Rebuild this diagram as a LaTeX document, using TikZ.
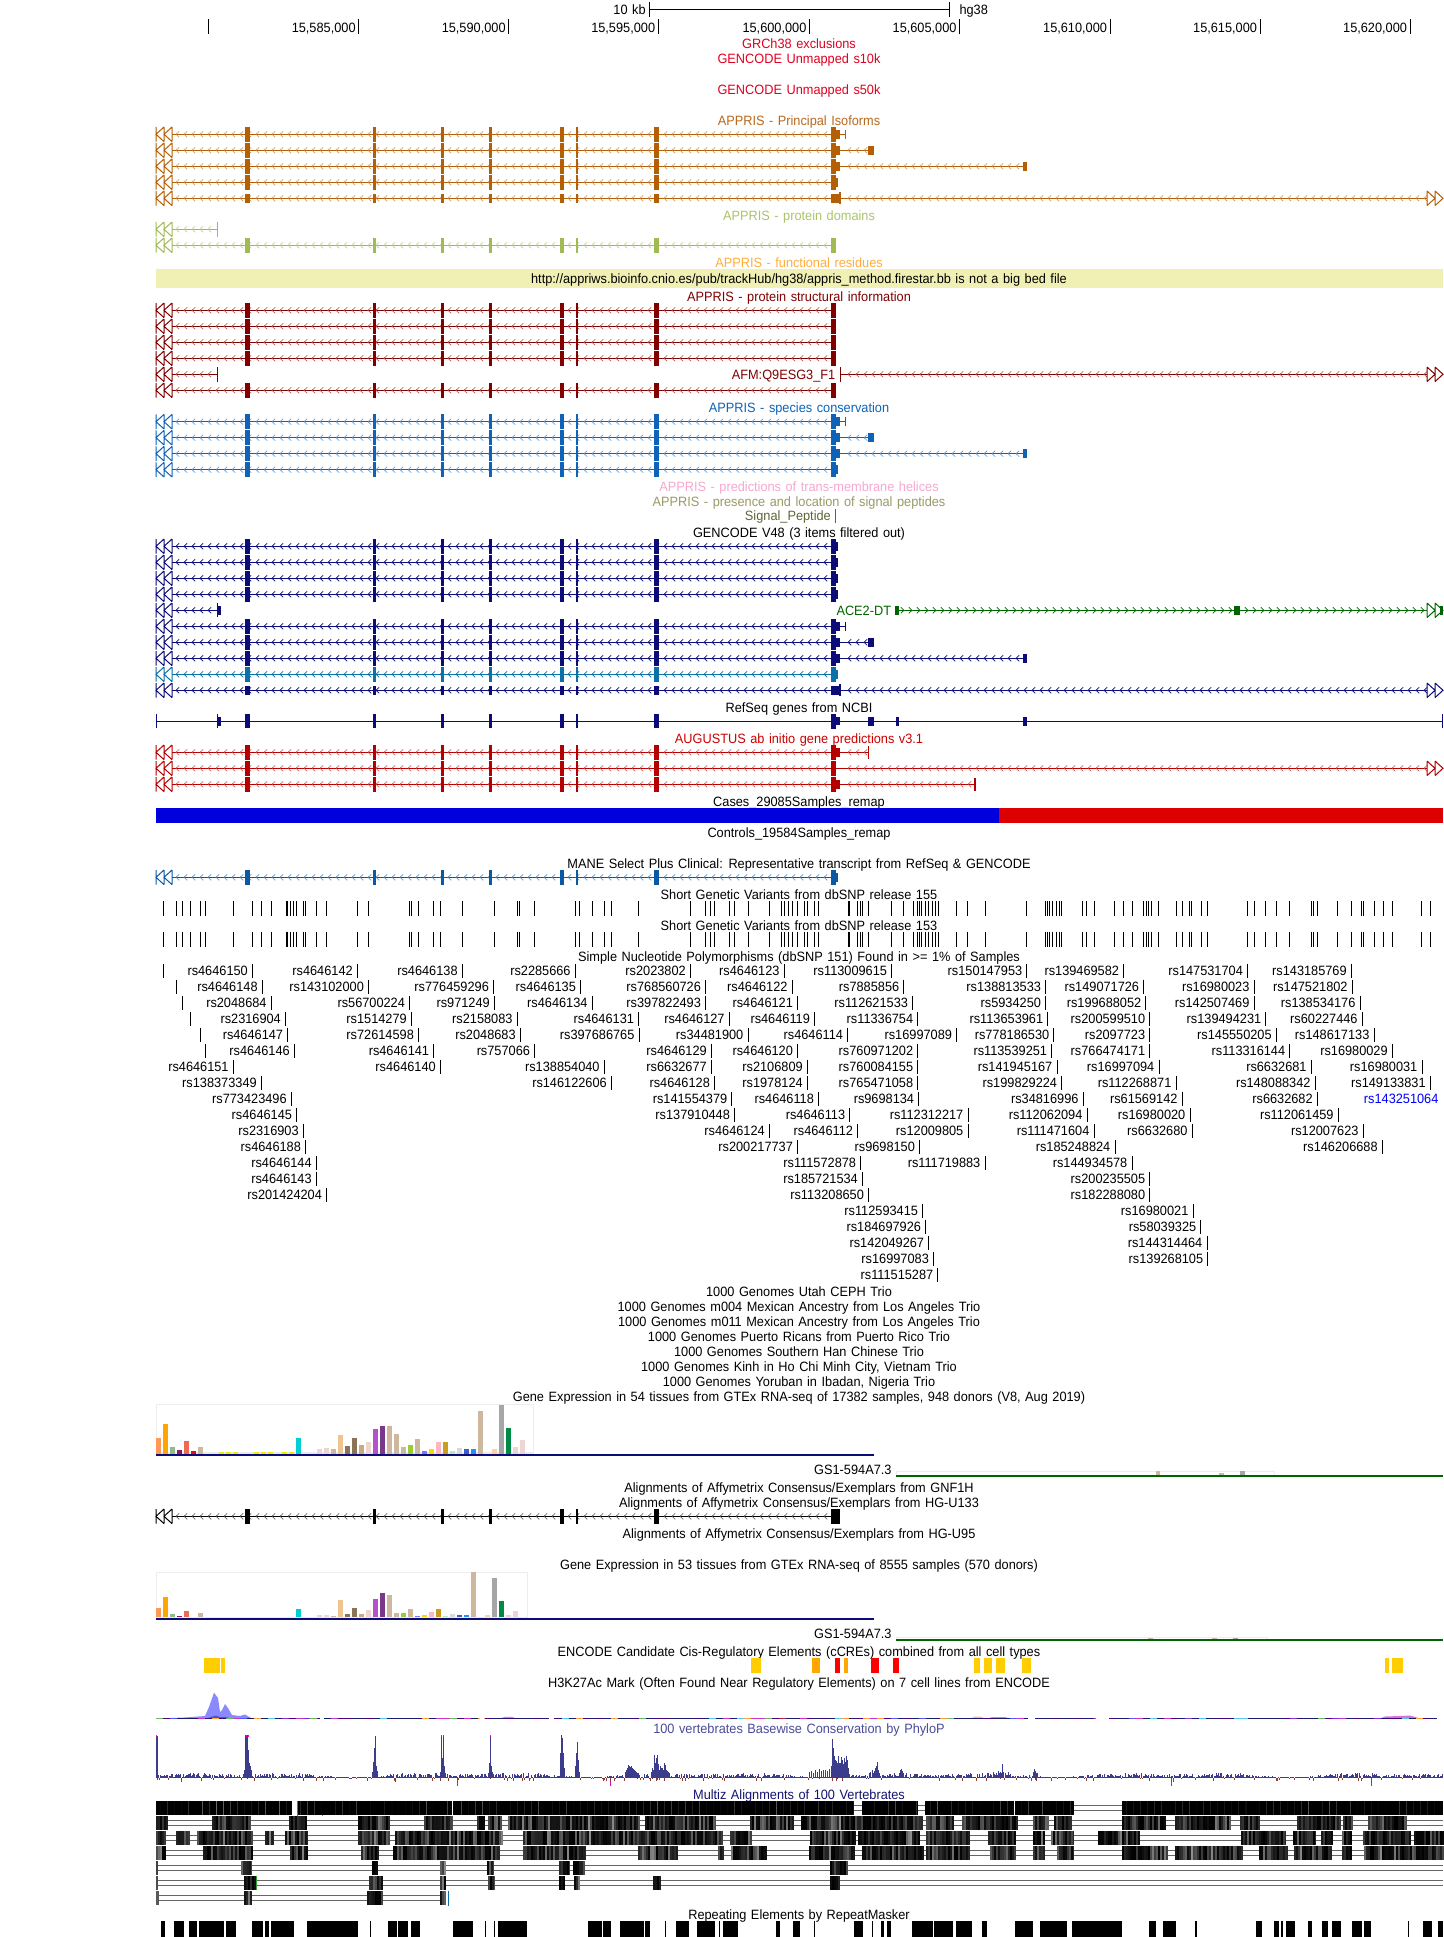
\documentclass[tikz,border=0pt]{standalone}
\usepackage{fontspec}
\setmainfont[FakeStretch=0.945,WordSpace=1.28,Ligatures=NoCommon]{Liberation Sans}
\definecolor{cRed}{HTML}{E00020}
\definecolor{cOrange}{HTML}{B45F06}
\definecolor{cOrLab}{HTML}{B8691E}
\definecolor{cGreen}{HTML}{A0BC50}
\definecolor{cGrLab}{HTML}{ABC46A}
\definecolor{cFunc}{HTML}{FFAE3B}
\definecolor{cDkRed}{HTML}{800000}
\definecolor{cBlue}{HTML}{0E63B8}
\definecolor{cPink}{HTML}{F7A8CF}
\definecolor{cOlive}{HTML}{9A9A66}
\definecolor{cSig}{HTML}{5C6636}
\definecolor{cNavy}{HTML}{0C0C78}
\definecolor{cTeal}{HTML}{0A70A8}
\definecolor{cDT}{HTML}{006400}
\definecolor{cAug}{HTML}{B40000}
\definecolor{cAugL}{HTML}{CC0000}
\definecolor{cMane}{HTML}{0A59A4}
\definecolor{cYel}{HTML}{F0F0B4}
\definecolor{cBar}{HTML}{0000DC}
\definecolor{cBarR}{HTML}{DC0000}
\definecolor{cPhy}{HTML}{3C3C8C}
\definecolor{cPhyL}{HTML}{4B4B9B}
\definecolor{cNeg}{HTML}{8B3A3A}
\definecolor{cMag}{HTML}{E010C0}
\definecolor{cMulti}{HTML}{14146E}
\definecolor{cTick}{HTML}{30A030}
\definecolor{ccY}{HTML}{FFCD00}
\definecolor{ccO}{HTML}{FFA700}
\definecolor{ccR}{HTML}{FF0000}
\definecolor{hA}{HTML}{8A8AFF}
\definecolor{hB}{HTML}{5050E0}
% GTEx tissue colours
\definecolor{g1}{HTML}{FF9955}\definecolor{g2}{HTML}{FFA500}\definecolor{g3}{HTML}{8FBC8F}
\definecolor{g4}{HTML}{8B1C62}\definecolor{g5}{HTML}{EE6A50}\definecolor{g6}{HTML}{FF0000}
\definecolor{g7}{HTML}{CDB79E}\definecolor{g8}{HTML}{EEEE00}\definecolor{g9}{HTML}{00CED1}
\definecolor{g10}{HTML}{EED5D2}\definecolor{g11}{HTML}{EEC591}\definecolor{g12}{HTML}{8B7355}
\definecolor{g13}{HTML}{CDAA7D}\definecolor{g14}{HTML}{B452CD}\definecolor{g15}{HTML}{7A378B}
\definecolor{g16}{HTML}{9ACD32}\definecolor{g17}{HTML}{7777FF}\definecolor{g18}{HTML}{FFD700}
\definecolor{g19}{HTML}{FFB6C1}\definecolor{g20}{HTML}{CD9B1D}\definecolor{g21}{HTML}{B4EEB4}
\definecolor{g22}{HTML}{D9D9D9}\definecolor{g23}{HTML}{3A5FCD}\definecolor{g24}{HTML}{1E90FF}
\definecolor{g25}{HTML}{FFD39B}\definecolor{g26}{HTML}{A6A6A6}\definecolor{g27}{HTML}{008B45}
% baseline colours
\definecolor{b1}{HTML}{1A1A70}\definecolor{b2}{HTML}{4B0082}\definecolor{b3}{HTML}{CC33CC}
\definecolor{b4}{HTML}{FFA040}\definecolor{b5}{HTML}{66BB66}\definecolor{b6}{HTML}{5555FF}
\definecolor{b7}{HTML}{55CCEE}\definecolor{b8}{HTML}{C02040}\definecolor{b9}{HTML}{8A2BE2}
\tikzset{
  lab/.style={inner sep=0pt,font=\fontsize{13.5}{15}\selectfont,anchor=base},
  labr/.style={inner sep=0pt,font=\fontsize{13.5}{15}\selectfont,anchor=base east},
  labl/.style={inner sep=0pt,font=\fontsize{13.5}{15}\selectfont,anchor=base west},
  glyph/.style={draw=gc,line width=1pt},
  gline/.style={draw=gc,line width=1.1pt},
  chev/.style={draw=gc!70,line width=.55pt},
  chevd/.style={draw=gc,line width=.7pt},
  tickk/.style={draw=black,line width=1pt},
  mzline/.style={draw=black!60,line width=.9pt},
}
\newcommand\tl[4]{\node[lab,text=#3] (#1) at (799,#2+4.8) {#4};}
\newcommand\tlr[5]{\node[labr,text=#4] (#1) at (#2,#3+4.8) {#5};}
\newcommand\ex[4]{\fill[gc] (#1,#3-#4) rectangle (#2,#3+#4);}
\newcommand\chstyle{chev}
\newcommand\chevL[3]{\pgfmathsetmacro\ca{#2+4}\pgfmathsetmacro\cb{#2+12}\pgfmathsetmacro\cc{#3-3}%
  \draw[\chstyle] foreach \x in {\ca,\cb,...,\cc} {(\x+3.2,#1-3)--(\x,#1)--(\x+3.2,#1+3)};}
\newcommand\chevR[3]{\pgfmathsetmacro\ca{#2+4}\pgfmathsetmacro\cb{#2+12}\pgfmathsetmacro\cc{#3-3}%
  \draw[\chstyle] foreach \x in {\ca,\cb,...,\cc} {(\x-3.2,#1-3)--(\x,#1)--(\x-3.2,#1+3)};}
\newcommand\glyphL[1]{\draw[glyph] (156,#1-7.3)--(156,#1+7.3) (164,#1-7.3)--(156,#1)--(164,#1+7.3)
  (164,#1-7.3)--(164,#1+7.3) (172,#1-7.3)--(164,#1)--(172,#1+7.3) (172,#1-7.3)--(172,#1+7.3);}
\newcommand\glyphR[1]{\draw[glyph] (1427,#1-7.3)--(1427,#1+7.3) (1427,#1-7.3)--(1435,#1)--(1427,#1+7.3)
  (1435,#1-7.3)--(1443,#1)--(1435,#1+7.3) (1435,#1-7.3)--(1435,#1+7.3);}
\newcommand\cex[2]{\foreach \a/\b in {244.9/249.8,373/376.2,440.9/444,489/491.8,560/564,576.2/578,653.8/659.2}{\ex{\a}{\b}{#1}{#2}}}
\newcommand\base[2]{\glyphL{#1}\draw[gline] (172,#1)--(831,#1);\chevL{#1}{172}{831}\cex{#1}{#2}}
\newcommand\tail[2]{\draw[gline] (836,#1)--(#2,#1);\chevL{#1}{844}{#2}}
\newcommand\lastA[1]{\ex{831}{836}{#1}{7.5}\ex{836}{840.2}{#1}{4.3}}
\newcommand\lastD[1]{\ex{831}{836}{#1}{7.5}\ex{836}{838}{#1}{4.3}}
\newcommand\txA[1]{\base{#1}{7.5}\draw[gline] (836,#1)--(845.5,#1);\lastA{#1}\draw[glyph] (845.5,#1-4.5)--(845.5,#1+4.5);}
\newcommand\txB[1]{\base{#1}{7.5}\tail{#1}{868.5}\lastA{#1}\ex{868.2}{874.3}{#1}{4.5}}
\newcommand\txC[1]{\base{#1}{7.5}\tail{#1}{1023.5}\lastA{#1}\ex{1023.4}{1026.5}{#1}{4.5}}
\newcommand\txD[1]{\base{#1}{7.5}\lastD{#1}}
\newcommand\txE[1]{\base{#1}{4.5}\tail{#1}{1427}\ex{831}{840}{#1}{4.5}\draw[gline] (840,#1-6)--(840,#1+6);\glyphR{#1}}
\newcommand\txF[1]{\base{#1}{7.5}\ex{831}{835.8}{#1}{7.5}}
\newcommand\txS[1]{\glyphL{#1}\draw[gline] (172,#1)--(217.5,#1);\chevL{#1}{172}{217}}
\newcommand\rstick[3]{\draw[tickk] (#1,#2-7.2)--(#1,#2+7.2);\node[labr] (#3) at (#1-4.5,#2+4.8) {#3};}
\newcommand\RSL[2]{\pgfmathsetmacro\ry{970.7+16*#1}\foreach \z/\nm in {#2}{\pgfmathsetmacro\xx{140+\z/2.24}\rstick{\xx}{\ry}{\nm}}}
\newcommand\RSR[2]{\pgfmathsetmacro\ry{970.7+16*#1}\foreach \z/\nm in {#2}{\pgfmathsetmacro\xx{760+\z/2.293}\rstick{\xx}{\ry}{\nm}}}
\newcommand\snps[2]{%
 \foreach \z in {52,81,95,113,135,147,209,252,272,295,327,331,338,344,350,365,371,395,418,487,511,604,608,624,657,673,722,794,845,851,884,975,985,1013,1040,1056,1117,1233,1266,1277,1287,1320,1331,1362}
   {\draw[draw=black,line width=.9pt] (140+\z/2.24,#1)--(140+\z/2.24,#2);}
 \foreach \z in {22,56,74,86,108,124,134,202,206,224,230,234,249,302,329,352,362,366,371,380,387,395,402,409,451,476,516,612,655,659,664,670,679,686,692,740,748,766,813,834,853,880,885,890,898,914,954,969,985,990,1012,1027,1118,1133,1160,1184,1215,1264,1270,1278,1325,1356,1378,1383,1408,1430,1450,1517,1538}
   {\draw[draw=black,line width=.9pt] (760+\z/2.293,#1)--(760+\z/2.293,#2);}
 \foreach \x in {781,788,797,804}{\draw[draw=black,line width=.9pt] (\x,#1)--(\x,#2);}}
\newcommand\mz[3]{% top, darkness base, blocks
 \foreach \a/\b in {#3}{\fill[black!#2] (\a,#1) rectangle (\b,#1+14);
  \pgfmathtruncatemacro\na{\a}\pgfmathtruncatemacro\nb{\b-1}\pgfmathtruncatemacro\nc{\na+2}%
  \ifnum\nb>\nc\foreach \x in {\na,\nc,...,\nb}{\pgfmathsetmacro\gv{40+60*(1-rnd*rnd)}%
    \fill[black!\gv] (\x,#1) rectangle (\x+1.6,#1+14);}\fi}}
\begin{document}
\begin{tikzpicture}[x=1pt,y=-1pt]
\useasboundingbox (0,0) rectangle (1443,1937);
\fill[white] (0,0) rectangle (1443,1937);
% ruler
\node[labr] (kb) at (645.8,14.1) {10 kb};
\node[labl] (hg) at (959.3,14.1) {hg38};
\coordinate (sa) at (649.4,9.3); \coordinate (sb) at (949.7,9.3);
\draw[tickk] (sa)--(sb) (649.4,1.7)--(649.4,17.3) (949.7,1.7)--(949.7,17.3);
\draw[tickk] (208.3,19.3)--(208.3,34);
\foreach \x/\n in {358.8/585,508.8/590,658.3/595,809.6/600,959.7/605,1110.2/610,1260.2/615,1410.2/620}
 {\draw[tickk] (\x,19.3)--(\x,34); \node[labr] (r\n) at (\x-3,32.1) {15,\n,000};}
% top labels
\tl{excl}{43.3}{cRed}{GRCh38 exclusions}
\tl{s10}{58.7}{cRed}{GENCODE Unmapped s10k}
\tl{s50}{89.3}{cRed}{GENCODE Unmapped s50k}
\tl{princ}{120.3}{cOrLab}{APPRIS - Principal Isoforms}
% principal
\colorlet{gc}{cOrange}
\txA{134.3}\txB{150.3}\txC{166.3}\txD{182.3}\txE{198.3}
% protein domains
\tl{dom}{215.7}{cGrLab}{APPRIS - protein domains}
\colorlet{gc}{cGreen}
\txS{229.3}\draw[glyph] (217.7,222)--(217.7,236.6);
\txF{245.3}\ex{831}{834.6}{245.3}{7.5}
% functional
\tl{func}{262.7}{cFunc}{APPRIS - functional residues}
\fill[cYel] (156,269) rectangle (1443,288);
\tl{url}{278.3}{black}{http://appriws.bioinfo.cnio.es/pub/trackHub/hg38/appris\_method.firestar.bb is not a big bed file}
% structural
\tl{struct}{296.6}{cDkRed}{APPRIS - protein structural information}
\colorlet{gc}{cDkRed}
\txF{310.3}\txF{326.3}\txF{342.3}\txF{358.3}
\txS{374.3}\draw[glyph] (217.7,367)--(217.7,381.6);
\tlr{afm}{835.5}{374.3}{cDkRed}{AFM:Q9ESG3\_F1}
\draw[glyph] (840.7,367)--(840.7,381.6);
\draw[gline] (840.7,374.3)--(1427,374.3);\chevL{374.3}{844}{1427}\glyphR{374.3}
\txF{390.3}
% species conservation
\tl{cons}{407.7}{cBlue}{APPRIS - species conservation}
\colorlet{gc}{cBlue}
\txA{421.7}\txB{437.7}\txC{453.7}\txD{469.7}
\tl{tm}{486.7}{cPink}{APPRIS - predictions of trans-membrane helices}
\tl{sp}{501.7}{cOlive}{APPRIS - presence and location of signal peptides}
\tlr{sigp}{831}{515.7}{cSig}{Signal\_Peptide}
\draw[draw=cSig,line width=.8pt] (835.4,509)--(835.4,522.5);
\tl{gc48}{532.3}{black}{GENCODE V48 (3 items filtered out)}
% GENCODE
\renewcommand\chstyle{chevd}
\colorlet{gc}{cNavy}
\txD{546.3}\txD{562.3}\txD{578.3}\txD{594.3}
\txS{610.3}\ex{217}{218}{610.3}{7}\ex{218}{221}{610.3}{4.5}
\node[labl,text=cDT] (acedt) at (836.3,615.1) {ACE2-DT};
\txA{626.3}\txB{642.3}\txC{658.3}
\colorlet{gc}{cTeal}\txD{674.3}
\colorlet{gc}{cNavy}\txE{690.3}
\colorlet{gc}{cDT}
\draw[gline] (897,610.3)--(1427,610.3);\chevR{610.3}{900}{1427}
\ex{895.2}{899.1}{610.3}{4.5}\ex{1233.6}{1239.7}{610.3}{4.5}\glyphR{610.3}\ex{1440}{1443}{610.3}{4.5}
\renewcommand\chstyle{chev}
% RefSeq
\tl{refseq}{707.7}{black}{RefSeq genes from NCBI}
\colorlet{gc}{cNavy}
\draw[draw=cNavy,line width=.9pt] (156,721)--(1443,721);
\draw[draw=cNavy,line width=.9pt] (156,714.3)--(156,728.3) (1442.5,714.3)--(1442.5,728.3);
\cex{721}{7}\ex{217}{218}{721}{7}\ex{218}{220.8}{721}{4.5}\ex{831}{836}{721}{7.5}\ex{836}{840.2}{721}{4.3}
\ex{868.2}{874.3}{721}{4.5}\ex{895.5}{898.5}{721}{4.5}\ex{1023.4}{1026.5}{721}{4.5}
% AUGUSTUS
\tl{aug}{738.3}{cAugL}{AUGUSTUS ab initio gene predictions v3.1}
\colorlet{gc}{cAug}
\base{752.3}{7.5}\tail{752.3}{868}\lastA{752.3}\draw[glyph] (868,746)--(868,758.6);
\base{768.3}{7.5}\tail{768.3}{1427}\ex{831}{835.8}{768.3}{7.5}\glyphR{768.3}
\base{784.3}{7.5}\tail{784.3}{975}\lastA{784.3}\draw[gline] (975,778)--(975,790.6);
% depth
\tl{cases}{801.7}{black}{Cases\_29085Samples\_remap}
\fill[cBar] (156,808) rectangle (999.4,823);
\fill[cBarR] (999.4,808) rectangle (1443,823);
\tl{ctrl}{832.7}{black}{Controls\_19584Samples\_remap}
% MANE
\tl{mane}{863.7}{black}{MANE Select Plus Clinical: Representative transcript from RefSeq \& GENCODE}
\colorlet{gc}{cMane}
\base{877.3}{7.5}\lastD{877.3}
% dbSNP
\tl{s155}{894.7}{black}{Short Genetic Variants from dbSNP release 155}
\snps{901}{915.7}
\tl{s153}{925.7}{black}{Short Genetic Variants from dbSNP release 153}
\snps{931.7}{946.7}
\tl{s151}{956.3}{black}{Simple Nucleotide Polymorphisms (dbSNP 151) Found in >= 1\% of Samples}
% rs labels
\foreach \z/\r in {52/0,82/1,95/2,113/3,135/4,147/5}{\draw[tickk] (140+\z/2.24,970.7+16*\r-7.2)--(140+\z/2.24,970.7+16*\r+7.2);}
\RSL{0}{252/rs4646150,487/rs4646142,722/rs4646138,975/rs2285666,1233/rs2023802,1443/rs4646123}
\RSR{0}{302/rs113009615,612/rs150147953,834/rs139469582,1118/rs147531704,1356/rs143185769}
\RSL{1}{274/rs4646148,512/rs143102000,792/rs776459296,987/rs4646135,1267/rs768560726,1461/rs4646122}
\RSR{1}{330/rs7885856,655/rs138813533,880/rs149071726,1133/rs16980023,1358/rs147521802}
\RSL{2}{294/rs2048684,604/rs56700224,794/rs971249,1013/rs4646134,1267/rs397822493,1473/rs4646121}
\RSR{2}{350/rs112621533,655/rs5934250,885/rs199688052,1133/rs142507469,1376/rs138534176}
\RSL{3}{326/rs2316904,608/rs1514279,845/rs2158083,1117/rs4646131,1320/rs4646127,1511/rs4646119}
\RSR{3}{362/rs11336754,660/rs113653961,894/rs200599510,1160/rs139494231,1381/rs60227446}
\RSL{4}{331/rs4646147,624/rs72614598,852/rs2048683,1118/rs397686765,1362/rs34481900}
\RSR{4}{201/rs4646114,451/rs16997089,674/rs778186530,894/rs2097723,1184/rs145550205,1408/rs148617133}
\RSL{5}{346/rs4646146,658/rs4646141,884/rs757066,1280/rs4646129,1473/rs4646120}
\RSR{5}{362/rs760971202,669/rs113539251,894/rs766474171,1215/rs113316144,1450/rs16980029}
\RSL{6}{209/rs4646151,673/rs4646140,1040/rs138854040,1280/rs6632677,1495/rs2106809}
\RSR{6}{362/rs760084155,681/rs141945167,915/rs16997094,1264/rs6632681,1518/rs16980031}
\RSL{7}{272/rs138373349,1056/rs146122606,1287/rs4646128,1495/rs1978124}
\RSR{7}{362/rs765471058,692/rs199829224,954/rs112268871,1273/rs148088342,1537/rs149133831}
\RSL{8}{339/rs773423496,1326/rs141554379,1520/rs4646118}
\RSR{8}{364/rs9698134,741/rs34816996,968/rs61569142,1278/rs6632682}
\tlr{rs143251064}{1438.6}{1098.7}{blue}{rs143251064}
\RSL{9}{351/rs4646145,1332/rs137910448}
\RSR{9}{206/rs4646113,477/rs112312217,750/rs112062094,986/rs16980020,1326/rs112061459}
\RSL{10}{366/rs2316903,1410/rs4646124}
\RSR{10}{224/rs4646112,477/rs12009805,766/rs111471604,991/rs6632680,1383/rs12007623}
\RSL{11}{371/rs4646188,1473/rs200217737}
\RSR{11}{366/rs9698150,814/rs185248824,1427/rs146206688}
\RSL{12}{395/rs4646144}
\RSR{12}{231/rs111572878,516/rs111719883,853/rs144934578}
\RSL{13}{395/rs4646143}
\RSR{13}{235/rs185721534,894/rs200235505}
\RSL{14}{418/rs201424204}
\RSR{14}{249/rs113208650,894/rs182288080}
\RSR{15}{373/rs112593415,993/rs16980021}
\RSR{16}{380/rs184697926,1011/rs58039325}
\RSR{17}{387/rs142049267,1025/rs144314464}
\RSR{18}{398/rs16997083,1027/rs139268105}
\RSR{19}{408/rs111515287}
% 1000 Genomes
\tl{kg1}{1291.7}{black}{1000 Genomes Utah CEPH Trio}
\tl{kg2}{1306.7}{black}{1000 Genomes m004 Mexican Ancestry from Los Angeles Trio}
\tl{kg3}{1321.7}{black}{1000 Genomes m011 Mexican Ancestry from Los Angeles Trio}
\tl{kg4}{1336.7}{black}{1000 Genomes Puerto Ricans from Puerto Rico Trio}
\tl{kg5}{1351.7}{black}{1000 Genomes Southern Han Chinese Trio}
\tl{kg6}{1366.7}{black}{1000 Genomes Kinh in Ho Chi Minh City, Vietnam Trio}
\tl{kg7}{1381.7}{black}{1000 Genomes Yoruban in Ibadan, Nigeria Trio}
\tl{gtx54}{1396.7}{black}{Gene Expression in 54 tissues from GTEx RNA-seq of 17382 samples, 948 donors (V8, Aug 2019)}
% GTEx 54
\draw[draw=black!7,line width=.8pt] (156,1404.5) rectangle (533.8,1454);
\fill[black!8] (156,1452) rectangle (533.8,1454);
\foreach \i/\z/\c in {0/474/g1,1/432/g2,2/501/g3,3/510/g4,4/483/g5,5/513/g6,6/501/g7,9/516/g8,10/516/g8,11/516/g8,14/516/g8,15/516/g8,16/516/g8,18/516/g8,19/516/g8,20/474/g9,23/507/g10,24/504/g10,25/507/g7,26/465/g11,27/498/g12,28/474/g12,29/495/g13,30/486/g10,31/447/g14,32/438/g15,33/438/g7,34/462/g7,35/501/g7,36/495/g16,37/477/g7,38/513/g17,39/507/g18,40/486/g19,41/486/g20,42/513/g21,43/504/g22,44/507/g23,45/507/g24,46/393/g7,48/507/g25,49/375/g26,50/444/g27,51/501/g10,52/480/g10}
 {\fill[\c] (156+7*\i,1280+\z/3) rectangle (161+7*\i,1453.5);}
\fill[cNavy] (156,1454) rectangle (874.3,1456);
\tlr{gs1a}{891.7}{1469.3}{black}{GS1-594A7.3}
\draw[draw=black!7,line width=.8pt] (896,1471.3) rectangle (1274.6,1475);
\fill[g7] (1155.6,1471) rectangle (1160.3,1475);\fill[g7] (1218.8,1473) rectangle (1223.6,1475);\fill[g26] (1239.7,1471) rectangle (1244.5,1475);
\fill[cDT] (896,1475) rectangle (1443,1477);
% Affy
\tl{gnf}{1487.3}{black}{Alignments of Affymetrix Consensus/Exemplars from GNF1H}
\tl{u133}{1502.3}{black}{Alignments of Affymetrix Consensus/Exemplars from HG-U133}
\colorlet{gc}{black}
\base{1516.3}{7.5}\ex{831}{840.2}{1516.3}{7.5}
\tl{u95}{1533.3}{black}{Alignments of Affymetrix Consensus/Exemplars from HG-U95}
\tl{gtx53}{1564.7}{black}{Gene Expression in 53 tissues from GTEx RNA-seq of 8555 samples (570 donors)}
% GTEx 53
\draw[draw=black!7,line width=.8pt] (156,1572.5) rectangle (527,1618);
\fill[black!8] (156,1616.5) rectangle (527,1618);
\foreach \i/\z/\c in {0/984/g1,1/951/g2,2/1002/g3,3/1008/g4,4/993/g5,6/999/g7,20/987/g9,23/1005/g10,24/1005/g10,25/1008/g7,26/960/g11,27/1002/g12,28/984/g12,29/1002/g13,30/990/g10,31/957/g14,32/939/g15,33/945/g7,34/999/g7,35/999/g16,36/987/g7,37/1008/g17,38/1005/g18,39/996/g19,40/987/g20,41/1008/g21,42/1002/g22,43/1005/g23,44/1005/g24,45/877/g7,47/1005/g25,48/894/g26,49/963/g27,50/1005/g10,51/993/g10}
 {\fill[\c] (156+7*\i,1280+\z/3) rectangle (161+7*\i,1617);}
\fill[cNavy] (156,1618) rectangle (874.3,1620);
\tlr{gs1b}{891.7}{1633.3}{black}{GS1-594A7.3}
\draw[draw=black!7,line width=.8pt] (896,1637.5) rectangle (1267.6,1639.3);
\fill[g7] (1148,1637.5) rectangle (1153,1639.3);\fill[g7] (1211.8,1637.5) rectangle (1216.6,1639.3);\fill[g26] (1232.8,1637.5) rectangle (1237.5,1639.3);
\fill[cDT] (896,1639.3) rectangle (1443,1641);
% cCRE
\tl{ccre}{1651.3}{black}{ENCODE Candidate Cis-Regulatory Elements (cCREs) combined from all cell types}
\foreach \a/\b/\c in {203.8/219.5/ccY,220.8/224.8/ccY,751.2/761/ccY,811.9/820.2/ccO,835/840.2/ccR,844.2/848.1/ccO,871.2/879/ccR,893/899.1/ccR,974.1/980.2/ccY,984.2/992.4/ccY,995.5/1005.1/ccY,1022.1/1031.3/ccY,1385/1389.3/ccY,1391.9/1402.8/ccY}
 {\fill[\c] (\a,1658) rectangle (\b,1673);}
% H3K27Ac
\tl{h3k}{1682.3}{black}{H3K27Ac Mark (Often Found Near Regulatory Elements) on 7 cell lines from ENCODE}
\fill[hA] (156,1718.5)--(184,1717.5)--(205,1716)--(209,1707)--(214,1692.7)--(218,1698)--(220,1712)--(222,1710)--(225,1704)--(228,1708)--(232,1715)--(240,1716)--(245,1714.5)--(252,1718.5)--cycle;
\fill[hB] (207,1718.5)--(212,1716.5)--(216,1715.5)--(220,1717)--(226,1717)--(230,1718.5)--cycle;
\fill[b3!70] (1380,1718.5)--(1385,1716.5)--(1400,1716)--(1410,1715.5)--(1420,1718.5)--cycle;
\fill[b4!70] (970,1718.5)--(975,1716.5)--(980,1716.5)--(985,1718.5)--cycle;
\fill[b6!60] (988,1718.5)--(992,1717)--(1005,1717)--(1010,1718.5)--cycle;
\fill[b6!60] (500,1718.5)--(505,1716.8)--(512,1716.8)--(516,1718.5)--cycle;
\pgfmathsetseed{11}
\foreach \x in {156,163,...,1436}{\pgfmathsetmacro\cn{{"b1","b1","b2","b1","b3","b1","b2","b4","b6","b1","b8","b2","b1","b1","b2","b5","b1","b9","b2","b7","b1","b1","b2","b1"}[int(rnd*24)]}%
  \fill[\cn] (\x,1717.6) rectangle (\x+7,1718.9);}
\foreach \a/\b in {549/554,1028/1035,1096/1109,480/484,320/324}{\fill[white] (\a,1717) rectangle (\b,1719.5);}
% PhyloP
\tl{phy}{1728.7}{cPhyL}{100 vertebrates Basewise Conservation by PhyloP}
\pgfmathsetseed{5}
\foreach \x in {156,157,...,1442}{\pgfmathsetmacro\am{3.4+2.8*sin(\x*2.3)*sin(\x*.77)}\pgfmathsetmacro\hv{.8+\am*rnd}\pgfmathsetmacro\nv{rnd}%
  \ifdim\nv pt<.09pt \pgfmathsetmacro\dv{.6+2.6*rnd}\fill[cNeg] (\x,1778.3) rectangle (\x+1,1778.3+\dv);%
  \else\fill[cPhy] (\x,1778.3) rectangle (\x+1,1778.3-\hv);\fi}
\foreach \x/\h in {156/43,157/42,243/4,244/8,245/43,246/42,247/43,248/28,249/15,250/12,251/8,
 372/6,373/16,374/30,375/42,376/12,377/7,440/6,441/43,442/20,443/43,444/12,445/5,
 488/5,489/15,490/43,491/12,492/6,493/4,560/25,561/43,562/40,563/25,564/10,
 575/12,576/25,577/36,578/18,579/6,
 625/6,626/8,627/10,628/13,629/12,630/11,631/12,632/10,633/9,634/8,635/7,636/6,637/5,638/5,
 651/6,652/10,653/8,654/23,655/15,656/20,657/23,658/14,659/8,660/12,661/10,662/10,663/8,664/15,665/13,666/8,667/7,668/6,669/5,
 809/6,811/7,813/5,815/8,817/6,819/9,821/7,823/8,825/8,827/7,829/9,831/12,832/39,833/30,834/22,835/18,836/17,837/15,838/22,839/15,840/15,841/21,842/18,843/14,844/20,845/16,846/22,847/18,848/10,849/4,
 869/4,870/6,872/8,874/7,875/10,876/12,877/16,878/8,879/5,899/5,900/8,901/9,902/7,903/5,
 990/4,993/6,996/5,998/7,1000/6,1002/14,1003/6,1005/5,1008/6,1010/4,1033/6,1034/9,1035/7,1036/5,1037/5}
 {\fill[cPhy] (\x,1778.3) rectangle (\x+1,1778.3-\h);}
\foreach \x in {156,245.5,247.5,441,443,490}{\fill[cMag] (\x,1735) rectangle (\x+1,1737);}
\foreach \x in {457.4,610,1170.8,1371}{\fill[cNeg] (\x,1778.3) rectangle (\x+1,1782);\fill[cMag] (\x,1782) rectangle (\x+1,1786);}
% Multiz
\tl{mul}{1794.3}{cMulti}{Multiz Alignments of 100 Vertebrates}
\foreach \t in {1801,1816,1831,1846,1861,1876}{\draw[mzline] (156,\t+4.3)--(1443,\t+4.3) (156,\t+9.7)--(1443,\t+9.7);}
\draw[mzline] (156,1895.3)--(445,1895.3) (156,1900.7)--(445,1900.7);
\fill[white] (156,1801) rectangle (1073.6,1815.5);
\fill[black] (156,1801) rectangle (292,1815.3);
\foreach \a/\b in {297/854.2,861.6/918.3,925.3/1014.2,1015.1/1073.6,1121.5/1443}{\fill[black] (\a,1801) rectangle (\b,1815.3);}
\pgfmathsetseed{3}
\foreach \x in {160,167,...,1440}{\pgfmathsetmacro\gv{100-45*rnd*rnd}\pgfmathsetmacro\wv{rnd*1.2+.3}%
  \ifdim\x pt<1073pt\relax\fill[black!\gv] (\x,1801) rectangle (\x+\wv,1815.3);\else\ifdim\x pt>1122pt\relax\fill[black!\gv] (\x,1801) rectangle (\x+\wv,1815.3);\fi\fi}
\foreach \a/\b in {292/297,854.2/861.6,918.3/925.3,1014.2/1015.1,1073.6/1121.5}{\fill[white] (\a,1801) rectangle (\b,1815.3);}
\foreach \a/\b in {854.2/861.6,918.3/925.3,1073.6/1121.5}{\draw[mzline] (\a,1805.3)--(\b,1805.3) (\a,1810.7)--(\b,1810.7);}
\fill[white] (452,1801) rectangle (453,1815.3);
\fill[cTick] (297,1801) rectangle (298,1815.5);
\fill[cTick] (321.5,1815) rectangle (322.5,1816);
\pgfmathsetseed{9}
\mz{1816}{70}{156/168.1,212.3/250.7,289.6/307,358.3/389.1,424.8/452.9,477/485.1,488.2/502,508.3/640,645.8/715.9,750.3/793,801.4/922.2,926.2/953.2,962.4/1017.3,1033.4/1048.7,1054.4/1072.3,1122/1165.6,1175.6/1230.6,1240.6/1259.3,1297.7/1340,1343.5/1352.2,1368.4/1406.7}
\mz{1831}{85}{156/165.9,176.2/189.1,197.1/252.5,265/273.9,285.5/307.9,358.3/389.1,395.8/502,523.5/723,730.2/752,810.2/855.9,858.1/919.2,926.2/970.2,988.1/1016.4,1033.4/1044.3,1051.3/1073.6,1098.4/1140.3,1241.5/1285.5,1293.8/1315.6,1321.3/1332.2,1342.2/1351.8,1363.6/1410.2,1414.6/1443}
\mz{1846}{85}{156/165.9,203.8/252.5,290.9/307,361.4/378.4,393.1/499.8,523/585.5,638.7/677,718.1/723.9,731/767.2,809.6/854.2,862/923.1,926.2/969.3,990.7/1016.4,1033.4/1044.3,1057.4/1073.6,1122.4/1167.3,1175.6/1242.8,1259.8/1287.7,1294.7/1332.2,1342.2/1351.8,1364/1443}
\mz{1861}{75}{156/158.3,241.8/251.6,372.6/378,440.4/445.4,487.8/493.6,559.2/569.9,573/584.2,830.2/848.1}
\mz{1876}{70}{156/158.3,244/256,369.5/382.9,440.9/445.8,488.2/494.5,559.2/565.4,574.8/580.2,653.8/661.4,830.2/840.2}
\fill[cTick] (256.3,1876) rectangle (257.3,1890);
\mz{1891}{65}{156/159,244/252,367.2/382.4,440.9/445.4}
\fill[cTeal] (447.6,1891) rectangle (449.2,1906);
% RepeatMasker
\tl{rmsk}{1914.3}{black}{Repeating Elements by RepeatMasker}
\foreach \a/\b in {47/57,76/99,110/128,133/189,193/215,251/275,281/289,293/345,374/488,515.5/517,556/575,578/600,607/627,701/746,772/775,793/794.5,802/867,1004/1034,1038/1055,1075/1128,1132/1142,1175/1176.5,1201/1230,1248/1260,1262/1288,1297/1300,1305/1340}
 {\fill[black] (140+\a/2.24,1921) rectangle (140+\b/2.24,1937);}
\foreach \a/\b in {37/46,76/92,124.5/126,216/236,256/258,278/284,292/301,349/397,399/443,450/487,510/521,585/627,643/705,716/831,891/907,923/953,997/1002,1137/1152,1178/1189,1194/1200,1205/1226,1256/1265,1288/1303,1311/1332,1357/1380,1385/1400,1486/1487.5,1520/1540,1555/1566}
 {\fill[black] (760+\a/2.293,1921) rectangle (760+\b/2.293,1937);}
\end{tikzpicture}
\end{document}
